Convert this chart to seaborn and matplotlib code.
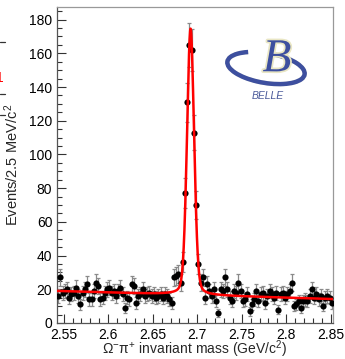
import numpy as np
import pandas as pd
import matplotlib
matplotlib.use("Agg")
import matplotlib.pyplot as plt
import seaborn as sns
from matplotlib.ticker import MultipleLocator, FixedLocator
from matplotlib.patches import Arc
from matplotlib.lines import Line2D
import matplotlib.patheffects as pe

# ---------------- data ----------------
bin_width = 0.0025
mass = np.round(np.arange(2.54375, 2.852, bin_width), 5)  # bin centres (GeV/c^2)

counts_left = [16, 27, 18, 19, 20, 15, 17, 18, 21, 16,
               11, 18, 20, 23, 14, 14, 19, 24, 22, 14,
               15, 18, 20, 21, 18, 19, 16, 19, 21, 17,
               9, 15, 14, 23, 22, 12, 16, 17, 20, 16,
               17, 18, 16, 17, 15, 16, 17, 15, 17, 16,
               14, 12, 27, 28, 29, 24]
counts_peak = [36, 77, 131, 165, 162, 113, 70, 35]
counts_right = [24, 27, 15, 23, 19, 16, 20, 13, 6, 20,
                19, 27, 20, 15, 13, 19, 18, 24, 19, 13,
                14, 17, 7, 11, 14, 19, 13, 17, 18, 12,
                16, 19, 17, 15, 18, 8, 17, 18, 15, 17,
                19, 24, 10, 11, 13, 9, 13, 14, 13, 16,
                20, 15, 17, 14, 16, 10, 15, 16, 15, 12]
counts = np.array(counts_left + counts_peak + counts_right, dtype=float)
errors = np.sqrt(counts)

# fit result (signal + linear background)
fit_mass = 2.6925
fit_sigma = 0.0040
fit_gauss_amp = 125.0
fit_bw_amp = 33.0
fit_bw_halfwidth = 0.0045
bkg_ref_mass = 2.5425
bkg_at_ref = 19.0
bkg_slope = -15.5

x_ticks = [2.55, 2.60, 2.65, 2.70, 2.75, 2.80, 2.85]
x_tick_labels = ["2.55", "2.6", "2.65", "2.7", "2.75", "2.8", "2.85"]
y_ticks = [0, 20, 40, 60, 80, 100, 120, 140, 160, 180]
x_range = (2.5425, 2.8525)
y_range = (0, 187.5)

fit_x = np.linspace(x_range[0], x_range[1], 1500)
fit_y = (bkg_at_ref + bkg_slope * (fit_x - bkg_ref_mass)
         + fit_gauss_amp * np.exp(-0.5 * ((fit_x - fit_mass) / fit_sigma) ** 2)
         + fit_bw_amp * fit_bw_halfwidth ** 2 / ((fit_x - fit_mass) ** 2 + fit_bw_halfwidth ** 2))

df = pd.DataFrame({"mass": mass, "counts": counts})
df_fit = pd.DataFrame({"mass": fit_x, "fit": fit_y})

# ---------------- style ----------------
sns.set_style("ticks")
plt.rcParams["font.family"] = ["Liberation Sans", "DejaVu Sans"]
plt.rcParams["mathtext.fontset"] = "custom"
plt.rcParams["mathtext.rm"] = "Liberation Sans"
plt.rcParams["mathtext.it"] = "Liberation Sans"
plt.rcParams["mathtext.bf"] = "Liberation Sans:bold"

W, H = 345, 359
fig = plt.figure(figsize=(W / 100, H / 100), dpi=100)
ax = fig.add_axes([57 / W, 1 - 323 / H, 276 / W, 316 / H])

ax.errorbar(df["mass"], df["counts"], yerr=errors, fmt="none",
            ecolor="#8a8a8a", elinewidth=0.9, capsize=1.3, capthick=0.9, zorder=2)
sns.scatterplot(data=df, x="mass", y="counts", ax=ax, color="black", s=20,
                linewidth=0, zorder=3, legend=False)
sns.lineplot(data=df_fit, x="mass", y="fit", ax=ax, color="#ff0000", lw=1.8,
             estimator=None, sort=False, zorder=4, legend=False)

ax.set_xlim(*x_range)
ax.set_ylim(*y_range)
ax.xaxis.set_major_locator(FixedLocator(x_ticks))
ax.set_xticklabels(x_tick_labels)
ax.xaxis.set_minor_locator(MultipleLocator(0.01))
ax.yaxis.set_major_locator(FixedLocator(y_ticks))
ax.yaxis.set_minor_locator(MultipleLocator(5))
ax.tick_params(which="both", direction="in", top=False, right=False,
               color="#333333", width=0.8, labelsize=10, pad=3.4,
               labelcolor="black")
ax.tick_params(which="major", length=6.5)
ax.tick_params(which="minor", length=3.5)
for side in ["left", "bottom"]:
    ax.spines[side].set_color("#555555")
    ax.spines[side].set_linewidth(0.9)
for side in ["top", "right"]:
    ax.spines[side].set_color("#999999")
    ax.spines[side].set_linewidth(0.9)

ax.set_xlabel(r"$\Omega^{-}\pi^{+}$ invariant mass (GeV/$c^{2}$)", fontsize=10, va="center")
ax.set_ylabel(r"Events/2.5 MeV/$c^{2}$", fontsize=10.5, va="center")
ax.xaxis.set_label_coords(0.5, (323 - 349) / 316)
ax.yaxis.set_label_coords((12 - 57) / 276, 0.5)

# ---------------- Belle logo (approximation) ----------------
def px(x, y):
    return ((x - 57) / 276, (323 - y) / 316)

logo_blue = "#3d4f9f"
glow = [pe.withStroke(linewidth=3, foreground="#e9e6c4")]
cx, cy = px(266, 68)
swoosh = Arc((cx, cy), 78 / 276, 30 / 316, angle=-8, theta1=150, theta2=420,
             transform=ax.transAxes, color=logo_blue, lw=3.2, zorder=5)
swoosh.set_path_effects(glow)
ax.add_patch(swoosh)
bx, by = px(277, 60)
ax.text(bx, by, "B", transform=ax.transAxes, fontsize=34, fontstyle="italic",
        family=["Liberation Serif", "DejaVu Serif"], color=logo_blue,
        ha="center", va="center", zorder=6,
        path_effects=[pe.withStroke(linewidth=2.5, foreground="#e9e6c4")])
tx, ty = px(268, 96)
ax.text(tx, ty, "BELLE", transform=ax.transAxes, fontsize=7.5, fontstyle="italic",
        color="#4a5a9a", ha="center", va="center", zorder=6)

# ---------------- cropped neighbour fragments at the left edge ----------------
for yy in (42, 94, 115):
    fig.add_artist(Line2D([0, 5 / W], [1 - yy / H, 1 - yy / H], color="#333333", lw=0.9))
fig.text(4 / W, 1 - 78 / H, "1", color="#ff0000", fontsize=10, ha="right", va="center")

fig.savefig("out.png", dpi=100)
